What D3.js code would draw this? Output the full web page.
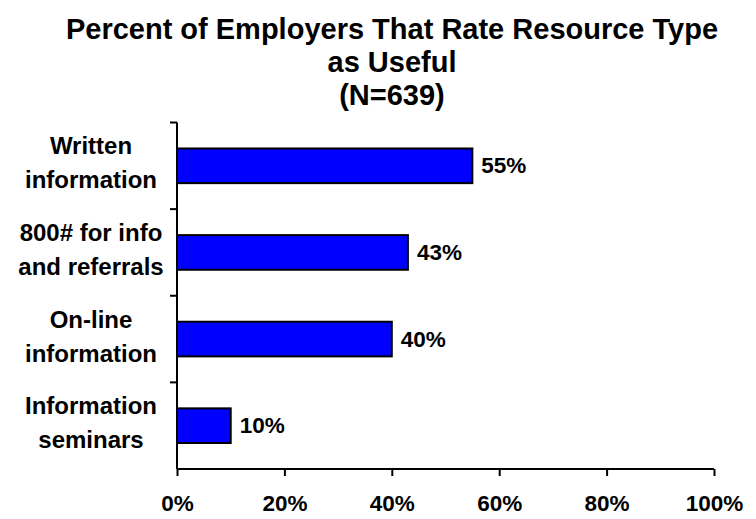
<!DOCTYPE html>
<html>
<head>
<meta charset="utf-8">
<script src="https://cdn.jsdelivr.net/npm/d3@7"></script>
<style>
  html, body { margin: 0; padding: 0; background: #fff; }
  svg text { font-family: "Liberation Sans", Arial, sans-serif; font-weight: bold; fill: #000; }
</style>
</head>
<body>
<svg id="chart" width="756" height="519"></svg>
<script>
// Resource types (two-line labels) and the share of employers rating each useful
const categories = [
  ["Written", "information"],
  ["800# for info", "and referrals"],
  ["On-line", "information"],
  ["Information", "seminars"]
];
const values = [55, 43, 40, 10];
const xTicks = [0, 20, 40, 60, 80, 100];
const titleLines = ["Percent of Employers That Rate Resource Type", "as Useful", "(N=639)"];

const svg = d3.select("#chart");
const plot = { left: 177, right: 714, top: 122.5, bottom: 469 };

const x = d3.scaleLinear().domain([0, 100]).range([plot.left, plot.right]);
const y = d3.scaleBand()
  .domain(d3.range(categories.length))
  .range([plot.top, plot.bottom])
  .paddingInner(0.6)
  .paddingOuter(0.3);
const bandStep = (plot.bottom - plot.top) / categories.length;
const bandCenter = i => plot.top + (i + 0.5) * bandStep;

// Title
svg.append("g").selectAll("text").data(titleLines).join("text")
  .attr("x", 392)
  .attr("y", (d, i) => 39 + i * 33)
  .attr("text-anchor", "middle")
  .style("font-size", "29px")
  .text(d => d);

// Bars
svg.append("g").selectAll("rect").data(values).join("rect")
  .attr("x", x(0))
  .attr("y", (d, i) => y(i))
  .attr("width", d => x(d) - x(0))
  .attr("height", y.bandwidth())
  .attr("fill", "#0000ff")
  .attr("stroke", "#000")
  .attr("stroke-width", 2);

// Value labels
svg.append("g").selectAll("text").data(values).join("text")
  .attr("x", d => x(d) + 9)
  .attr("y", (d, i) => y(i) + y.bandwidth() / 2)
  .attr("dy", "0.34em")
  .style("font-size", "22.5px")
  .text(d => d + "%");

// Y axis: vertical line with ticks at the band boundaries
const yAxis = svg.append("g");
yAxis.append("line")
  .attr("x1", x(0)).attr("x2", x(0))
  .attr("y1", plot.top).attr("y2", plot.bottom)
  .attr("stroke", "#000").attr("stroke-width", 2);
yAxis.selectAll("line.tick").data(d3.range(categories.length)).join("line")
  .attr("class", "tick")
  .attr("x1", x(0) - 7).attr("x2", x(0))
  .attr("y1", i => plot.top + i * bandStep).attr("y2", i => plot.top + i * bandStep)
  .attr("stroke", "#000").attr("stroke-width", 2);

// Category labels, two lines each
const catText = svg.append("g").selectAll("text").data(categories).join("text")
  .attr("text-anchor", "middle")
  .style("font-size", "24px");
catText.each(function(lines, i) {
  d3.select(this).selectAll("tspan").data(lines).join("tspan")
    .attr("x", 91)
    .attr("y", (d, j) => bandCenter(i) + (j === 0 ? -11.5 : 22.5))
    .text(d => d);
});

// X axis
const xAxis = d3.axisBottom(x)
  .tickValues(xTicks)
  .tickFormat(d => d + "%")
  .tickSize(7)
  .tickPadding(19);
const gx = svg.append("g")
  .attr("transform", `translate(0,${plot.bottom})`)
  .call(xAxis);
gx.select(".domain").attr("stroke", "#000").attr("stroke-width", 2).attr("d", `M${x(0)},0H${x(100)}`);
gx.selectAll(".tick line").attr("stroke", "#000").attr("stroke-width", 2);
gx.selectAll(".tick text")
  .style("font-size", "22.5px")
  .style("font-family", "'Liberation Sans', Arial, sans-serif")
  .style("font-weight", "bold")
  .attr("fill", "#000");
</script>
</body>
</html>
